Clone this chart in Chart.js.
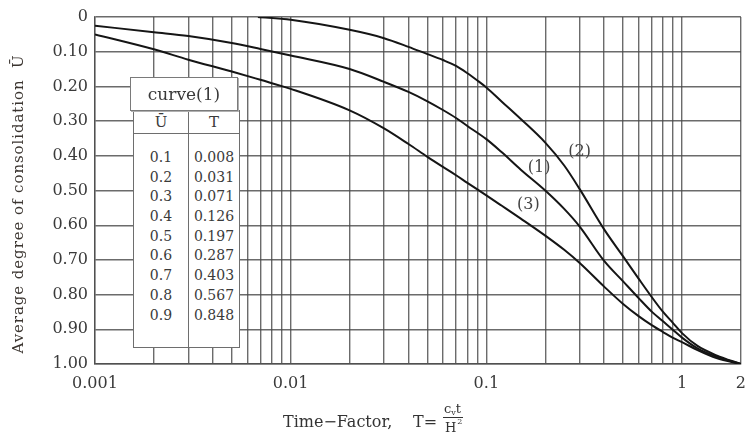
<!DOCTYPE html>
<html lang="en">
<head>
  <meta charset="UTF-8">
  <title>Average degree of consolidation vs Time-Factor</title>
  <style>
    body {
      margin: 0;
      background: #fff;
    }

    #wrap {
      position: relative;
      width: 756px;
      height: 442px;
    }

    #graph {
      position: absolute;
      left: 0;
      top: 0;
    }

    .cap {
      position: absolute;
      left: 130px;
      top: 77px;
      width: 106px;
      height: 32px;
      border: 1px solid #7a7a7a;
      box-shadow: 1px 1px 0 #b0b0b0;
      background: #fff;
      font: 17px 'DejaVu Serif', serif;
      color: #3a3a3a;
      text-align: center;
      line-height: 32px;
      z-index: 2;
    }

    .tbl {
      position: absolute;
      left: 133px;
      top: 110px;
      width: 105px;
      height: 237px;
      border: 1px solid #6e6e6e;
      border-top: none;
      background: #fff;
      font: 14px 'DejaVu Serif', serif;
      color: #3a3a3a;
      display: flex;
    }

    .col {
      height: 100%;
      text-align: center;
    }

    .col.left {
      width: 54px;
      border-right: 1px solid #6e6e6e;
    }

    .col.right {
      width: 50px;
    }

    .head {
      height: 23px;
      line-height: 25px;
      border-bottom: 1px solid #6e6e6e;
      font-size: 15px;
    }

    .rows {
      padding-top: 14px;
    }

    .rows div {
      height: 19.7px;
      line-height: 19.7px;
    }
  </style>
</head>
<body>
  <div id="wrap">
    <canvas id="graph" width="756" height="442"></canvas>
    <div class="cap" id="capText"></div>
    <div class="tbl">
      <div class="col left"><div class="head">Ū</div><div class="rows" id="colU"></div></div>
      <div class="col right"><div class="head">T</div><div class="rows" id="colT"></div></div>
    </div>
  </div>

  <script src="https://cdn.jsdelivr.net/npm/chart.js"></script>
  <script>
    // curve (1)
    const curve1T = [0.001, 0.002, 0.003, 0.005, 0.007, 0.01, 0.02, 0.03, 0.04, 0.05, 0.06, 0.07, 0.08, 0.1, 0.12, 0.15, 0.2, 0.25, 0.3, 0.4, 0.5, 0.6, 0.7, 0.8, 0.9, 1, 1.2, 1.5, 2];
    const curve1U = [0.025, 0.044, 0.055, 0.075, 0.092, 0.111, 0.15, 0.187, 0.216, 0.243, 0.268, 0.291, 0.314, 0.352, 0.39, 0.44, 0.5, 0.553, 0.604, 0.703, 0.762, 0.81, 0.849, 0.877, 0.902, 0.924, 0.955, 0.979, 1.0];

    // curve (2)
    const curve2T = [0.0068, 0.01, 0.02, 0.03, 0.04, 0.05, 0.06, 0.07, 0.08, 0.09, 0.1, 0.12, 0.15, 0.2, 0.25, 0.3, 0.4, 0.5, 0.6, 0.7, 0.8, 0.9, 1, 1.2, 1.5, 2];
    const curve2U = [0, 0.008, 0.037, 0.061, 0.086, 0.107, 0.124, 0.141, 0.162, 0.183, 0.203, 0.244, 0.294, 0.362, 0.428, 0.496, 0.612, 0.69, 0.754, 0.807, 0.85, 0.882, 0.911, 0.948, 0.975, 1.0];

    // curve (3)
    const curve3T = [0.001, 0.002, 0.003, 0.005, 0.007, 0.01, 0.02, 0.03, 0.04, 0.05, 0.06, 0.07, 0.08, 0.1, 0.12, 0.15, 0.2, 0.25, 0.3, 0.4, 0.5, 0.6, 0.7, 0.8, 0.9, 1, 1.2, 1.5, 2];
    const curve3U = [0.05, 0.093, 0.123, 0.157, 0.181, 0.207, 0.269, 0.321, 0.366, 0.403, 0.432, 0.456, 0.478, 0.514, 0.544, 0.581, 0.63, 0.671, 0.709, 0.777, 0.827, 0.862, 0.888, 0.908, 0.925, 0.937, 0.96, 0.983, 1.0];

    // curve labels, placed in data space
    const curveNames = ['(1)', '(2)', '(3)'];
    const curveNameT = [0.186, 0.3, 0.164];
    const curveNameU = [0.436, 0.388, 0.542];

    // inset table for curve (1)
    const tableTitle = 'curve(1)';
    const tableU = ['0.1', '0.2', '0.3', '0.4', '0.5', '0.6', '0.7', '0.8', '0.9'];
    const tableT = ['0.008', '0.031', '0.071', '0.126', '0.197', '0.287', '0.403', '0.567', '0.848'];

    // axes
    const xGridValues = [0.001, 0.002, 0.003, 0.004, 0.005, 0.006, 0.007, 0.008, 0.009,
                         0.01, 0.02, 0.03, 0.04, 0.05, 0.06, 0.07, 0.08, 0.09,
                         0.1, 0.2, 0.3, 0.4, 0.5, 0.6, 0.7, 0.8, 0.9, 1, 2];
    const xLabelValues = [0.001, 0.01, 0.1, 1, 2];
    const xLabelTexts = ['0.001', '0.01', '0.1', '1', '2'];
    const yTickLabels = ['0', '0.10', '0.20', '0.30', '0.40', '0.50', '0.60', '0.70', '0.80', '0.90', '1.00'];

    const yTitle = 'Average degree of consolidation  Ū';
    const xTitle = 'Time−Factor,';

    document.getElementById('capText').textContent = tableTitle;
    document.getElementById('colU').innerHTML = tableU.map(v => `<div>${v}</div>`).join('');
    document.getElementById('colT').innerHTML = tableT.map(v => `<div>${v}</div>`).join('');

    const toPoints = (ts, us) => ts.map((t, i) => ({x: t, y: us[i]}));

    const gridColor = 'rgba(75,75,75,0.82)';
    const serif = "'DejaVu Serif', serif";

    const annot = {
      id: 'annot',
      afterDraw(chart) {
        const {ctx, scales: {x, y}} = chart;
        ctx.save();

        // curve names
        ctx.fillStyle = '#444';
        ctx.font = `16px ${serif}`;
        ctx.textAlign = 'center';
        ctx.textBaseline = 'middle';
        curveNames.forEach((n, i) => {
          ctx.fillText(n, x.getPixelForValue(curveNameT[i]), y.getPixelForValue(curveNameU[i]));
        });

        // y title, stretched to the reference length
        ctx.save();
        ctx.translate(19, 204);
        ctx.rotate(-Math.PI / 2);
        ctx.font = `15px ${serif}`;
        ctx.fillStyle = '#3b3530';
        const w0 = ctx.measureText(yTitle).width;
        ctx.letterSpacing = ((298 - w0) / (yTitle.length - 1)).toFixed(2) + 'px';
        ctx.textAlign = 'center';
        ctx.fillText(yTitle, 0, 0);
        ctx.restore();

        // x title with fraction
        ctx.fillStyle = '#333';
        ctx.textAlign = 'left';
        ctx.textBaseline = 'alphabetic';
        ctx.font = `16px ${serif}`;
        ctx.fillText(xTitle, 283, 427);
        ctx.fillText('T=', 413, 427);
        ctx.font = `13px ${serif}`;
        ctx.fillText('c', 444, 413);
        let cx = 444 + ctx.measureText('c').width;
        ctx.font = `8px ${serif}`;
        ctx.fillText('v', cx, 415);
        cx += ctx.measureText('v').width;
        ctx.font = `13px ${serif}`;
        ctx.fillText('t', cx, 413);
        ctx.fillText('H', 445, 432);
        const hx = 445 + ctx.measureText('H').width;
        ctx.font = `8px ${serif}`;
        ctx.fillText('2', hx + 1, 424);
        ctx.strokeStyle = '#333';
        ctx.lineWidth = 1;
        ctx.beginPath();
        ctx.moveTo(443, 417.5);
        ctx.lineTo(463, 417.5);
        ctx.stroke();

        ctx.restore();
      }
    };

    const lineStyle = {
      borderColor: '#151515',
      borderWidth: 2,
      pointRadius: 0,
      fill: false,
      cubicInterpolationMode: 'monotone'
    };

    new Chart(document.getElementById('graph'), {
      type: 'line',
      data: {
        datasets: [
          {label: '(1)', data: toPoints(curve1T, curve1U), ...lineStyle},
          {label: '(2)', data: toPoints(curve2T, curve2U), ...lineStyle},
          {label: '(3)', data: toPoints(curve3T, curve3U), ...lineStyle}
        ]
      },
      options: {
        responsive: false,
        animation: false,
        devicePixelRatio: 1,
        layout: {padding: {top: 17, right: 6, left: 0, bottom: 0}},
        plugins: {
          legend: {display: false},
          tooltip: {enabled: false}
        },
        scales: {
          x: {
            type: 'logarithmic',
            min: 0.001,
            max: 2,
            afterBuildTicks: s => {
              s.ticks = xGridValues.map(v => ({value: v}));
              s.min = 0.001;
              s.max = 2;
            },
            afterFit: s => { s.height = 78; },
            grid: {color: gridColor, lineWidth: 1.4, drawTicks: false},
            border: {display: true, color: gridColor, width: 1.4},
            ticks: {
              autoSkip: false,
              maxRotation: 0,
              padding: 10,
              color: '#3a3a3a',
              font: {family: serif, size: 16},
              callback: value => {
                const i = xLabelValues.findIndex(v => Math.abs(v - value) < 1e-9);
                return i >= 0 ? xLabelTexts[i] : '';
              }
            }
          },
          y: {
            type: 'linear',
            reverse: true,
            min: 0,
            max: 1,
            afterFit: s => { s.width = 95; },
            grid: {color: gridColor, lineWidth: 1.4, drawTicks: false},
            border: {display: true, color: gridColor, width: 1.4},
            ticks: {
              stepSize: 0.1,
              padding: 7,
              color: '#3a3a3a',
              font: {family: serif, size: 16},
              callback: value => yTickLabels[Math.round(value * 10)]
            }
          }
        }
      },
      plugins: [annot]
    });
  </script>
</body>
</html>
